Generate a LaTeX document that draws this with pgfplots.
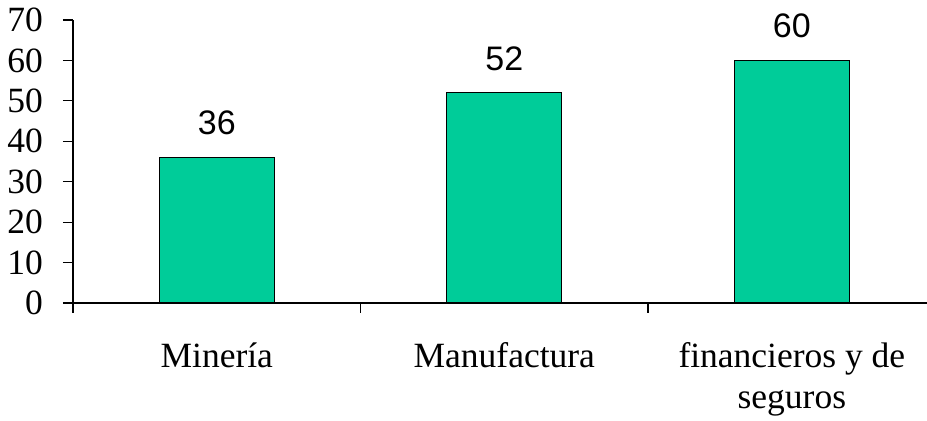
\documentclass[border=0pt]{standalone}
\usepackage{fontspec}
\setmainfont{Liberation Serif}
\newfontfamily\arial{Liberation Sans}
\usepackage{pgfplots}
\pgfplotsset{compat=1.18}
\definecolor{barfill}{HTML}{00CC99}
\begin{document}
\begin{tikzpicture}
\begin{axis}[
  at={(0,0)}, anchor=south west,
  scale only axis, width=427pt, height=141.5pt,
  ymin=0, ymax=70, ytick={0,10,...,70},
  xmin=-0.5, xmax=2.47,
  axis lines*=left,
  axis line style={line width=0.6pt},
  tick style={line width=0.6pt, black},
  tick align=outside, major tick length=5pt, minor tick length=5pt,
  xtick={0,1,2},
  xticklabels={\strut Minería, \strut Manufactura, {\strut financieros y de\\[2pt]\strut seguros}},
  minor xtick={-0.5,0.5,1.5},
  major x tick style={draw=none},
  /pgf/number format/assume math mode=true,
  ticklabel style={font=\fontsize{17.75}{18.5}\selectfont},
  xticklabel style={align=center, yshift=-11pt},
  yticklabel style={xshift=-6.5pt},
  ybar, bar width=57.5pt,
  nodes near coords,
  every node near coord/.append style={font=\arial\fontsize{17}{17}\selectfont, yshift=7.5pt},
  clip=false,
]
\addplot[fill=barfill, draw=black, line width=0.6pt] coordinates {(0,36) (1,52) (2,60)};
\end{axis}
\pgfresetboundingbox
\path[use as bounding box] (-36.5pt,-59pt) rectangle (427pt,151.5pt);
\end{tikzpicture}
\end{document}
